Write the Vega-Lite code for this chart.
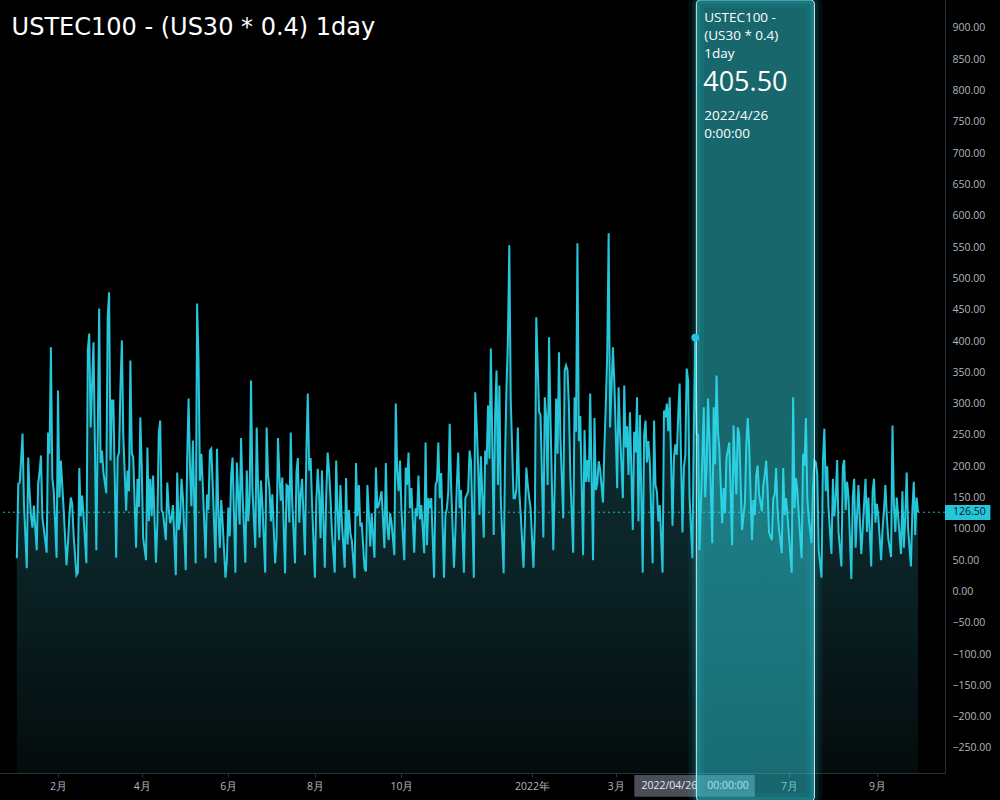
{
"$schema":"https://vega.github.io/schema/vega-lite/v6.json",
"width":945,"height":773,
"autosize":{"type":"none"},
"padding":{"left":0,"top":0,"right":55,"bottom":27},
"background":"#000000",
"config":{"view":{"stroke":null},"font":"Open Sans","axis":{"labelOverlap":false,"labelBound":false,"labelFlush":false},"axisY":{"labelOverlap":false},"axisQuantitative":{"labelOverlap":false}},
"datasets":{"s":[
{"d":"2021-01-03","v":53},
{"d":"2021-01-04","v":172},{"d":"2021-01-05","v":174},{"d":"2021-01-06","v":210},{"d":"2021-01-07","v":252},{"d":"2021-01-08","v":141},{"d":"2021-01-10","v":37},
{"d":"2021-01-11","v":214},{"d":"2021-01-12","v":157},{"d":"2021-01-13","v":120},{"d":"2021-01-14","v":102},{"d":"2021-01-15","v":137},{"d":"2021-01-17","v":66},
{"d":"2021-01-18","v":172},{"d":"2021-01-19","v":190},{"d":"2021-01-20","v":217},{"d":"2021-01-21","v":118},{"d":"2021-01-22","v":100},{"d":"2021-01-24","v":62},
{"d":"2021-01-25","v":254},{"d":"2021-01-26","v":220},{"d":"2021-01-27","v":390},{"d":"2021-01-28","v":182},{"d":"2021-01-29","v":160},{"d":"2021-01-31","v":54},
{"d":"2021-02-01","v":321},{"d":"2021-02-02","v":150},{"d":"2021-02-03","v":209},{"d":"2021-02-04","v":170},{"d":"2021-02-05","v":130},{"d":"2021-02-07","v":42},
{"d":"2021-02-08","v":77},{"d":"2021-02-09","v":120},{"d":"2021-02-10","v":150},{"d":"2021-02-11","v":140},{"d":"2021-02-12","v":90},{"d":"2021-02-14","v":26},
{"d":"2021-02-15","v":30},{"d":"2021-02-16","v":197},{"d":"2021-02-17","v":120},{"d":"2021-02-18","v":153},{"d":"2021-02-19","v":120},{"d":"2021-02-21","v":45},
{"d":"2021-02-22","v":385},{"d":"2021-02-23","v":412},{"d":"2021-02-24","v":262},{"d":"2021-02-25","v":330},{"d":"2021-02-26","v":398},{"d":"2021-02-28","v":66},
{"d":"2021-03-01","v":250},{"d":"2021-03-02","v":452},{"d":"2021-03-03","v":205},{"d":"2021-03-04","v":225},{"d":"2021-03-05","v":190},{"d":"2021-03-07","v":157},
{"d":"2021-03-08","v":438},{"d":"2021-03-09","v":478},{"d":"2021-03-10","v":209},{"d":"2021-03-11","v":305},{"d":"2021-03-12","v":305},{"d":"2021-03-14","v":54},
{"d":"2021-03-15","v":214},{"d":"2021-03-16","v":222},{"d":"2021-03-17","v":326},{"d":"2021-03-18","v":401},{"d":"2021-03-19","v":250},{"d":"2021-03-21","v":129},
{"d":"2021-03-22","v":193},{"d":"2021-03-23","v":160},{"d":"2021-03-24","v":369},{"d":"2021-03-25","v":220},{"d":"2021-03-26","v":215},{"d":"2021-03-28","v":70},
{"d":"2021-03-29","v":180},{"d":"2021-03-30","v":135},{"d":"2021-03-31","v":278},{"d":"2021-04-01","v":200},{"d":"2021-04-02","v":86},{"d":"2021-04-04","v":50},
{"d":"2021-04-05","v":230},{"d":"2021-04-06","v":112},{"d":"2021-04-07","v":180},{"d":"2021-04-08","v":120},{"d":"2021-04-09","v":185},{"d":"2021-04-11","v":46},
{"d":"2021-04-12","v":108},{"d":"2021-04-13","v":252},{"d":"2021-04-14","v":273},{"d":"2021-04-15","v":130},{"d":"2021-04-16","v":125},{"d":"2021-04-18","v":82},
{"d":"2021-04-19","v":174},{"d":"2021-04-20","v":133},{"d":"2021-04-21","v":109},{"d":"2021-04-22","v":117},{"d":"2021-04-23","v":138},{"d":"2021-04-25","v":26},
{"d":"2021-04-26","v":190},{"d":"2021-04-27","v":98},{"d":"2021-04-28","v":114},{"d":"2021-04-29","v":180},{"d":"2021-04-30","v":150},{"d":"2021-05-02","v":34},
{"d":"2021-05-03","v":210},{"d":"2021-05-04","v":308},{"d":"2021-05-05","v":200},{"d":"2021-05-06","v":136},{"d":"2021-05-07","v":241},{"d":"2021-05-09","v":45},
{"d":"2021-05-10","v":460},{"d":"2021-05-11","v":370},{"d":"2021-05-12","v":177},{"d":"2021-05-13","v":220},{"d":"2021-05-14","v":170},{"d":"2021-05-16","v":53},
{"d":"2021-05-17","v":155},{"d":"2021-05-18","v":130},{"d":"2021-05-19","v":225},{"d":"2021-05-20","v":228},{"d":"2021-05-21","v":170},{"d":"2021-05-23","v":46},
{"d":"2021-05-24","v":228},{"d":"2021-05-25","v":125},{"d":"2021-05-26","v":70},{"d":"2021-05-27","v":146},{"d":"2021-05-28","v":110},{"d":"2021-05-30","v":22},
{"d":"2021-05-31","v":50},{"d":"2021-06-01","v":134},{"d":"2021-06-02","v":88},{"d":"2021-06-03","v":185},{"d":"2021-06-04","v":214},{"d":"2021-06-06","v":30},
{"d":"2021-06-07","v":206},{"d":"2021-06-08","v":157},{"d":"2021-06-09","v":107},{"d":"2021-06-10","v":245},{"d":"2021-06-11","v":157},{"d":"2021-06-13","v":46},
{"d":"2021-06-14","v":193},{"d":"2021-06-15","v":112},{"d":"2021-06-16","v":150},{"d":"2021-06-17","v":337},{"d":"2021-06-18","v":165},{"d":"2021-06-20","v":70},
{"d":"2021-06-21","v":262},{"d":"2021-06-22","v":165},{"d":"2021-06-23","v":86},{"d":"2021-06-24","v":177},{"d":"2021-06-25","v":140},{"d":"2021-06-27","v":30},
{"d":"2021-06-28","v":262},{"d":"2021-06-29","v":185},{"d":"2021-06-30","v":165},{"d":"2021-07-01","v":112},{"d":"2021-07-02","v":155},{"d":"2021-07-04","v":45},
{"d":"2021-07-05","v":86},{"d":"2021-07-06","v":245},{"d":"2021-07-07","v":185},{"d":"2021-07-08","v":145},{"d":"2021-07-09","v":182},{"d":"2021-07-11","v":29},
{"d":"2021-07-12","v":170},{"d":"2021-07-13","v":168},{"d":"2021-07-14","v":110},{"d":"2021-07-15","v":254},{"d":"2021-07-16","v":145},{"d":"2021-07-18","v":45},
{"d":"2021-07-19","v":190},{"d":"2021-07-20","v":213},{"d":"2021-07-21","v":110},{"d":"2021-07-22","v":155},{"d":"2021-07-23","v":180},{"d":"2021-07-25","v":58},
{"d":"2021-07-26","v":222},{"d":"2021-07-27","v":316},{"d":"2021-07-28","v":193},{"d":"2021-07-29","v":213},{"d":"2021-07-30","v":140},{"d":"2021-08-01","v":22},
{"d":"2021-08-02","v":145},{"d":"2021-08-03","v":196},{"d":"2021-08-04","v":155},{"d":"2021-08-05","v":85},{"d":"2021-08-06","v":193},{"d":"2021-08-08","v":38},
{"d":"2021-08-09","v":155},{"d":"2021-08-10","v":222},{"d":"2021-08-11","v":193},{"d":"2021-08-12","v":150},{"d":"2021-08-13","v":95},{"d":"2021-08-15","v":30},
{"d":"2021-08-16","v":209},{"d":"2021-08-17","v":130},{"d":"2021-08-18","v":82},{"d":"2021-08-19","v":170},{"d":"2021-08-20","v":112},{"d":"2021-08-22","v":38},
{"d":"2021-08-23","v":181},{"d":"2021-08-24","v":75},{"d":"2021-08-25","v":130},{"d":"2021-08-26","v":93},{"d":"2021-08-27","v":82},{"d":"2021-08-29","v":21},
{"d":"2021-08-30","v":205},{"d":"2021-08-31","v":120},{"d":"2021-09-01","v":170},{"d":"2021-09-02","v":104},{"d":"2021-09-03","v":110},{"d":"2021-09-05","v":37},
{"d":"2021-09-06","v":32},{"d":"2021-09-07","v":170},{"d":"2021-09-08","v":125},{"d":"2021-09-09","v":72},{"d":"2021-09-10","v":125},{"d":"2021-09-12","v":54},
{"d":"2021-09-13","v":198},{"d":"2021-09-14","v":133},{"d":"2021-09-15","v":138},{"d":"2021-09-16","v":149},{"d":"2021-09-17","v":160},{"d":"2021-09-19","v":69},
{"d":"2021-09-20","v":205},{"d":"2021-09-21","v":104},{"d":"2021-09-22","v":82},{"d":"2021-09-23","v":125},{"d":"2021-09-24","v":110},{"d":"2021-09-26","v":58},
{"d":"2021-09-27","v":300},{"d":"2021-09-28","v":193},{"d":"2021-09-29","v":160},{"d":"2021-09-30","v":209},{"d":"2021-10-01","v":130},{"d":"2021-10-03","v":50},
{"d":"2021-10-04","v":198},{"d":"2021-10-05","v":170},{"d":"2021-10-06","v":222},{"d":"2021-10-07","v":133},{"d":"2021-10-08","v":165},{"d":"2021-10-10","v":62},
{"d":"2021-10-11","v":133},{"d":"2021-10-12","v":120},{"d":"2021-10-13","v":185},{"d":"2021-10-14","v":115},{"d":"2021-10-15","v":138},{"d":"2021-10-17","v":61},
{"d":"2021-10-18","v":238},{"d":"2021-10-19","v":74},{"d":"2021-10-20","v":149},{"d":"2021-10-21","v":133},{"d":"2021-10-22","v":149},{"d":"2021-10-24","v":22},
{"d":"2021-10-25","v":170},{"d":"2021-10-26","v":176},{"d":"2021-10-27","v":238},{"d":"2021-10-28","v":149},{"d":"2021-10-29","v":189},{"d":"2021-10-31","v":22},
{"d":"2021-11-01","v":122},{"d":"2021-11-02","v":133},{"d":"2021-11-03","v":160},{"d":"2021-11-04","v":268},{"d":"2021-11-05","v":170},{"d":"2021-11-07","v":38},
{"d":"2021-11-08","v":96},{"d":"2021-11-09","v":170},{"d":"2021-11-10","v":222},{"d":"2021-11-11","v":133},{"d":"2021-11-12","v":162},{"d":"2021-11-14","v":30},
{"d":"2021-11-15","v":149},{"d":"2021-11-16","v":154},{"d":"2021-11-17","v":160},{"d":"2021-11-18","v":225},{"d":"2021-11-19","v":208},{"d":"2021-11-21","v":22},
{"d":"2021-11-22","v":318},{"d":"2021-11-23","v":266},{"d":"2021-11-24","v":203},{"d":"2021-11-25","v":122},{"d":"2021-11-26","v":216},{"d":"2021-11-28","v":86},
{"d":"2021-11-29","v":225},{"d":"2021-11-30","v":203},{"d":"2021-12-01","v":297},{"d":"2021-12-02","v":212},{"d":"2021-12-03","v":388},{"d":"2021-12-05","v":90},
{"d":"2021-12-06","v":282},{"d":"2021-12-07","v":353},{"d":"2021-12-08","v":170},{"d":"2021-12-09","v":329},{"d":"2021-12-10","v":149},{"d":"2021-12-12","v":29},
{"d":"2021-12-13","v":212},{"d":"2021-12-14","v":325},{"d":"2021-12-15","v":401},{"d":"2021-12-16","v":553},{"d":"2021-12-17","v":307},{"d":"2021-12-19","v":149},
{"d":"2021-12-20","v":149},{"d":"2021-12-21","v":165},{"d":"2021-12-22","v":262},{"d":"2021-12-23","v":160},{"d":"2021-12-24","v":125},{"d":"2021-12-26","v":38},
{"d":"2021-12-27","v":112},{"d":"2021-12-28","v":198},{"d":"2021-12-29","v":170},{"d":"2021-12-30","v":149},{"d":"2021-12-31","v":133},{"d":"2022-01-02","v":38},
{"d":"2022-01-03","v":112},{"d":"2022-01-04","v":438},{"d":"2022-01-05","v":362},{"d":"2022-01-06","v":287},{"d":"2022-01-07","v":282},{"d":"2022-01-09","v":86},
{"d":"2022-01-10","v":310},{"d":"2022-01-11","v":278},{"d":"2022-01-12","v":170},{"d":"2022-01-13","v":406},{"d":"2022-01-14","v":278},{"d":"2022-01-16","v":66},
{"d":"2022-01-17","v":170},{"d":"2022-01-18","v":308},{"d":"2022-01-19","v":220},{"d":"2022-01-20","v":382},{"d":"2022-01-21","v":245},{"d":"2022-01-23","v":117},
{"d":"2022-01-24","v":353},{"d":"2022-01-25","v":361},{"d":"2022-01-26","v":353},{"d":"2022-01-27","v":296},{"d":"2022-01-28","v":185},{"d":"2022-01-30","v":62},
{"d":"2022-01-31","v":310},{"d":"2022-02-01","v":255},{"d":"2022-02-02","v":556},{"d":"2022-02-03","v":240},{"d":"2022-02-04","v":280},{"d":"2022-02-06","v":58},
{"d":"2022-02-07","v":258},{"d":"2022-02-08","v":175},{"d":"2022-02-09","v":210},{"d":"2022-02-10","v":175},{"d":"2022-02-11","v":316},{"d":"2022-02-13","v":50},
{"d":"2022-02-14","v":277},{"d":"2022-02-15","v":162},{"d":"2022-02-16","v":173},{"d":"2022-02-17","v":208},{"d":"2022-02-18","v":195},{"d":"2022-02-20","v":142},
{"d":"2022-02-21","v":230},{"d":"2022-02-22","v":300},{"d":"2022-02-23","v":380},{"d":"2022-02-24","v":572},{"d":"2022-02-25","v":262},{"d":"2022-02-27","v":390},
{"d":"2022-02-28","v":335},{"d":"2022-03-01","v":255},{"d":"2022-03-02","v":165},{"d":"2022-03-03","v":326},{"d":"2022-03-04","v":255},{"d":"2022-03-06","v":149},
{"d":"2022-03-07","v":329},{"d":"2022-03-08","v":230},{"d":"2022-03-09","v":264},{"d":"2022-03-10","v":186},{"d":"2022-03-11","v":286},{"d":"2022-03-13","v":98},
{"d":"2022-03-14","v":255},{"d":"2022-03-15","v":222},{"d":"2022-03-16","v":310},{"d":"2022-03-17","v":112},{"d":"2022-03-18","v":282},{"d":"2022-03-20","v":30},
{"d":"2022-03-21","v":250},{"d":"2022-03-22","v":273},{"d":"2022-03-23","v":206},{"d":"2022-03-24","v":240},{"d":"2022-03-25","v":206},{"d":"2022-03-27","v":45},
{"d":"2022-03-28","v":273},{"d":"2022-03-29","v":170},{"d":"2022-03-30","v":160},{"d":"2022-03-31","v":112},{"d":"2022-04-01","v":138},{"d":"2022-04-03","v":30},
{"d":"2022-04-04","v":289},{"d":"2022-04-05","v":278},{"d":"2022-04-06","v":300},{"d":"2022-04-07","v":256},{"d":"2022-04-08","v":310},{"d":"2022-04-10","v":105},
{"d":"2022-04-11","v":213},{"d":"2022-04-12","v":235},{"d":"2022-04-13","v":218},{"d":"2022-04-14","v":280},{"d":"2022-04-15","v":332},{"d":"2022-04-17","v":94},
{"d":"2022-04-18","v":197},{"d":"2022-04-19","v":218},{"d":"2022-04-20","v":356},{"d":"2022-04-21","v":337},{"d":"2022-04-22","v":150},{"d":"2022-04-24","v":53},
{"d":"2022-04-25","v":250},{"d":"2022-04-26","v":405.5},{"d":"2022-04-27","v":253},{"d":"2022-04-28","v":250},{"d":"2022-04-29","v":66},{"d":"2022-05-01","v":213},
{"d":"2022-05-02","v":294},{"d":"2022-05-03","v":150},{"d":"2022-05-04","v":197},{"d":"2022-05-05","v":308},{"d":"2022-05-06","v":245},{"d":"2022-05-08","v":77},
{"d":"2022-05-09","v":294},{"d":"2022-05-10","v":203},{"d":"2022-05-11","v":345},{"d":"2022-05-12","v":255},{"d":"2022-05-13","v":228},{"d":"2022-05-15","v":109},
{"d":"2022-05-16","v":165},{"d":"2022-05-17","v":125},{"d":"2022-05-18","v":213},{"d":"2022-05-19","v":225},{"d":"2022-05-20","v":238},{"d":"2022-05-22","v":74},
{"d":"2022-05-23","v":265},{"d":"2022-05-24","v":203},{"d":"2022-05-25","v":155},{"d":"2022-05-26","v":262},{"d":"2022-05-27","v":250},{"d":"2022-05-29","v":98},
{"d":"2022-05-30","v":120},{"d":"2022-05-31","v":142},{"d":"2022-06-01","v":234},{"d":"2022-06-02","v":277},{"d":"2022-06-03","v":234},{"d":"2022-06-05","v":82},
{"d":"2022-06-06","v":146},{"d":"2022-06-07","v":122},{"d":"2022-06-08","v":186},{"d":"2022-06-09","v":201},{"d":"2022-06-10","v":155},{"d":"2022-06-12","v":128},
{"d":"2022-06-13","v":170},{"d":"2022-06-14","v":186},{"d":"2022-06-15","v":209},{"d":"2022-06-16","v":162},{"d":"2022-06-17","v":94},{"d":"2022-06-19","v":82},
{"d":"2022-06-20","v":149},{"d":"2022-06-21","v":155},{"d":"2022-06-22","v":197},{"d":"2022-06-23","v":130},{"d":"2022-06-24","v":100},{"d":"2022-06-26","v":61},
{"d":"2022-06-27","v":197},{"d":"2022-06-28","v":122},{"d":"2022-06-29","v":149},{"d":"2022-06-30","v":122},{"d":"2022-07-01","v":90},{"d":"2022-07-03","v":30},
{"d":"2022-07-04","v":310},{"d":"2022-07-05","v":133},{"d":"2022-07-06","v":181},{"d":"2022-07-07","v":160},{"d":"2022-07-08","v":120},{"d":"2022-07-10","v":53},
{"d":"2022-07-11","v":220},{"d":"2022-07-12","v":201},{"d":"2022-07-13","v":277},{"d":"2022-07-14","v":149},{"d":"2022-07-15","v":117},{"d":"2022-07-17","v":77},
{"d":"2022-07-18","v":165},{"d":"2022-07-19","v":209},{"d":"2022-07-20","v":206},{"d":"2022-07-21","v":186},{"d":"2022-07-22","v":66},{"d":"2022-07-24","v":22},
{"d":"2022-07-25","v":209},{"d":"2022-07-26","v":260},{"d":"2022-07-27","v":160},{"d":"2022-07-28","v":200},{"d":"2022-07-29","v":130},{"d":"2022-07-31","v":60},
{"d":"2022-08-01","v":180},{"d":"2022-08-02","v":120},{"d":"2022-08-03","v":150},{"d":"2022-08-04","v":210},{"d":"2022-08-05","v":95},{"d":"2022-08-07","v":40},
{"d":"2022-08-08","v":200},{"d":"2022-08-09","v":210},{"d":"2022-08-10","v":130},{"d":"2022-08-11","v":175},{"d":"2022-08-12","v":150},{"d":"2022-08-14","v":20},
{"d":"2022-08-15","v":150},{"d":"2022-08-16","v":180},{"d":"2022-08-17","v":70},{"d":"2022-08-18","v":120},{"d":"2022-08-19","v":170},{"d":"2022-08-21","v":60},
{"d":"2022-08-22","v":100},{"d":"2022-08-23","v":140},{"d":"2022-08-24","v":180},{"d":"2022-08-25","v":95},{"d":"2022-08-26","v":150},{"d":"2022-08-28","v":40},
{"d":"2022-08-29","v":160},{"d":"2022-08-30","v":180},{"d":"2022-08-31","v":110},{"d":"2022-09-01","v":140},{"d":"2022-09-02","v":120},{"d":"2022-09-04","v":50},
{"d":"2022-09-05","v":100},{"d":"2022-09-06","v":130},{"d":"2022-09-07","v":170},{"d":"2022-09-08","v":120},{"d":"2022-09-09","v":85},{"d":"2022-09-11","v":55},
{"d":"2022-09-12","v":265},{"d":"2022-09-13","v":140},{"d":"2022-09-14","v":95},{"d":"2022-09-15","v":150},{"d":"2022-09-16","v":120},{"d":"2022-09-18","v":60},
{"d":"2022-09-19","v":160},{"d":"2022-09-20","v":70},{"d":"2022-09-21","v":120},{"d":"2022-09-22","v":190},{"d":"2022-09-23","v":100},{"d":"2022-09-25","v":40},
{"d":"2022-09-26","v":130},{"d":"2022-09-27","v":175},{"d":"2022-09-28","v":90},{"d":"2022-09-29","v":150},{"d":"2022-09-30","v":126.5}
]},
"layer":[
{"data":{"name":"s"},
 "mark":{"type":"area","color":{"gradient":"linear","x1":0,"y1":0,"x2":0,"y2":1,"stops":[{"offset":0,"color":"#0f3337"},{"offset":0.6,"color":"#0b2427"},{"offset":1,"color":"#040b0c"}]}},
 "encoding":{
  "x":{"field":"d","type":"temporal","scale":{"type":"utc","domain":[{"year":2020,"month":12,"date":22,"hours":3,"utc":true},{"year":2022,"month":10,"date":19,"utc":true}]},
   "axis":{"title":null,"grid":false,"labelOverlap":false,"values":[{"year":2021,"month":2,"date":1,"utc":true},{"year":2021,"month":4,"date":1,"utc":true},{"year":2021,"month":6,"date":1,"utc":true},{"year":2021,"month":8,"date":1,"utc":true},{"year":2021,"month":10,"date":1,"utc":true},{"year":2022,"month":1,"date":1,"utc":true},{"year":2022,"month":3,"date":1,"utc":true},{"year":2022,"month":7,"date":1,"utc":true},{"year":2022,"month":9,"date":1,"utc":true}],
    "labelExpr":"utcmonth(datum.value)==0 ? utcyear(datum.value)+'年' : (utcmonth(datum.value)+1)+'月'",
    "domainColor":"#2a2e39","tickColor":"#2a2e39","tickSize":4,"labelColor":"#b2b5be","labelFontSize":10.5,"labelPadding":4,"labelFont":"Open Sans"}},
  "y":{"field":"v","type":"quantitative","scale":{"domain":[-290,944.7],"nice":false,"zero":false},
   "axis":{"title":null,"grid":false,"orient":"right","labelOverlap":false,"tickCount":24,"values":[-250,-200,-150,-100,-50,0,50,100,150,200,250,300,350,400,450,500,550,600,650,700,750,800,850,900],"format":".2f","ticks":false,"domainColor":"#2a2e39","labelColor":"#b2b5be","labelFontSize":10.5,"labelPadding":7,"labelFont":"Open Sans"}},
  "y2":{"datum":-290}
 }},
{"data":{"name":"s"},
 "mark":{"type":"line","color":"#26c6da","strokeWidth":2},
 "encoding":{"x":{"field":"d","type":"temporal"},"y":{"field":"v","type":"quantitative"}}},
{"data":{"values":[{}]},
 "mark":{"type":"rule","color":"#26c6da","strokeDash":[2,3],"strokeWidth":1,"opacity":0.9},
 "encoding":{"y":{"datum":126.5,"type":"quantitative"}}},
{"data":{"values":[{}]},
 "mark":{"type":"rect","color":"#4a4e59"},
 "encoding":{"x":{"datum":{"year":2022,"month":3,"date":14,"hours":2,"utc":true},"type":"temporal"},"x2":{"datum":{"year":2022,"month":6,"date":7,"utc":true}},"y":{"datum":-293,"type":"quantitative"},"y2":{"datum":-328}}},
{"data":{"values":[{}]},
 "mark":{"type":"text","text":"2022/04/26","color":"#e6e8ee","fontSize":10.5,"align":"right","baseline":"middle","dx":2},
 "encoding":{"x":{"datum":{"year":2022,"month":4,"date":26,"utc":true},"type":"temporal"},"y":{"datum":-310.6,"type":"quantitative"}}},
{"data":{"values":[{}]},
 "mark":{"type":"text","text":"00:00:00","color":"#e6e8ee","fontSize":10.5,"align":"left","baseline":"middle","dx":12},
 "encoding":{"x":{"datum":{"year":2022,"month":4,"date":26,"utc":true},"type":"temporal"},"y":{"datum":-310.6,"type":"quantitative"}}},
{"data":{"values":[{}]},
 "mark":{"type":"rect","fillOpacity":0,"stroke":"#26c6da","strokeWidth":16,"strokeOpacity":0.07,"cornerRadius":6},
 "encoding":{"x":{"datum":{"year":2022,"month":4,"date":26,"hours":19,"utc":true},"type":"temporal"},"x2":{"datum":{"year":2022,"month":7,"date":19,"utc":true}},"y":{"datum":945,"type":"quantitative"},"y2":{"datum":-335}}},
{"data":{"values":[{}]},
 "mark":{"type":"rect","fillOpacity":0,"stroke":"#26c6da","strokeWidth":8,"strokeOpacity":0.12,"cornerRadius":5},
 "encoding":{"x":{"datum":{"year":2022,"month":4,"date":26,"hours":19,"utc":true},"type":"temporal"},"x2":{"datum":{"year":2022,"month":7,"date":19,"utc":true}},"y":{"datum":945,"type":"quantitative"},"y2":{"datum":-335}}},
{"data":{"values":[{}]},
 "mark":{"type":"rect","fill":"#33e0ee","fillOpacity":0.46,"stroke":"#c4f3f7","strokeWidth":1,"cornerRadius":4},
 "encoding":{"x":{"datum":{"year":2022,"month":4,"date":26,"hours":19,"utc":true},"type":"temporal"},"x2":{"datum":{"year":2022,"month":7,"date":19,"utc":true}},"y":{"datum":945,"type":"quantitative"},"y2":{"datum":-335}}},
{"data":{"values":[{}]},
 "mark":{"type":"point","filled":true,"color":"#26c6da","size":60,"opacity":1},
 "encoding":{"x":{"datum":{"year":2022,"month":4,"date":26,"utc":true},"type":"temporal"},"y":{"datum":405.5,"type":"quantitative"}}},
{"data":{"values":[{}]},
 "mark":{"type":"text","text":"USTEC100 -","color":"#ffffff","fontSize":13.5,"align":"left","baseline":"middle","dx":9},
 "encoding":{"x":{"datum":{"year":2022,"month":4,"date":26,"utc":true},"type":"temporal"},"y":{"datum":915.9,"type":"quantitative"}}},
{"data":{"values":[{}]},
 "mark":{"type":"text","text":"(US30 * 0.4)","color":"#ffffff","fontSize":13.5,"align":"left","baseline":"middle","dx":9},
 "encoding":{"x":{"datum":{"year":2022,"month":4,"date":26,"utc":true},"type":"temporal"},"y":{"datum":887.1,"type":"quantitative"}}},
{"data":{"values":[{}]},
 "mark":{"type":"text","text":"1day","color":"#ffffff","fontSize":13.5,"align":"left","baseline":"middle","dx":9},
 "encoding":{"x":{"datum":{"year":2022,"month":4,"date":26,"utc":true},"type":"temporal"},"y":{"datum":858.4,"type":"quantitative"}}},
{"data":{"values":[{}]},
 "mark":{"type":"text","text":"405.50","color":"#ffffff","fontSize":27,"align":"left","baseline":"middle","dx":8},
 "encoding":{"x":{"datum":{"year":2022,"month":4,"date":26,"utc":true},"type":"temporal"},"y":{"datum":812.2,"type":"quantitative"}}},
{"data":{"values":[{}]},
 "mark":{"type":"text","text":"2022/4/26","color":"#ffffff","fontSize":13.5,"align":"left","baseline":"middle","dx":9},
 "encoding":{"x":{"datum":{"year":2022,"month":4,"date":26,"utc":true},"type":"temporal"},"y":{"datum":759.5,"type":"quantitative"}}},
{"data":{"values":[{}]},
 "mark":{"type":"text","text":"0:00:00","color":"#ffffff","fontSize":13.5,"align":"left","baseline":"middle","dx":9},
 "encoding":{"x":{"datum":{"year":2022,"month":4,"date":26,"utc":true},"type":"temporal"},"y":{"datum":730.8,"type":"quantitative"}}},
{"data":{"values":[{}]},
 "mark":{"type":"text","text":"USTEC100 - (US30 * 0.4) 1day","color":"#ffffff","font":"DejaVu Sans","fontSize":24,"align":"left","baseline":"middle","dx":-1},
 "encoding":{"x":{"datum":{"year":2020,"month":12,"date":31,"utc":true},"type":"temporal"},"y":{"datum":900.2,"type":"quantitative"}}},
{"data":{"values":[{}]},
 "mark":{"type":"rect","color":"#26c6da"},
 "encoding":{"x":{"datum":{"year":2022,"month":10,"date":19,"utc":true},"type":"temporal"},"x2":{"datum":{"year":2022,"month":11,"date":20,"utc":true}},"y":{"datum":138.2,"type":"quantitative"},"y2":{"datum":114.2}}},
{"data":{"values":[{}]},
 "mark":{"type":"text","text":"126.50","color":"#0c1a1e","fontSize":10.5,"align":"left","baseline":"middle","dx":8},
 "encoding":{"x":{"datum":{"year":2022,"month":10,"date":19,"utc":true},"type":"temporal"},"y":{"datum":126.5,"type":"quantitative"}}}
]
}
